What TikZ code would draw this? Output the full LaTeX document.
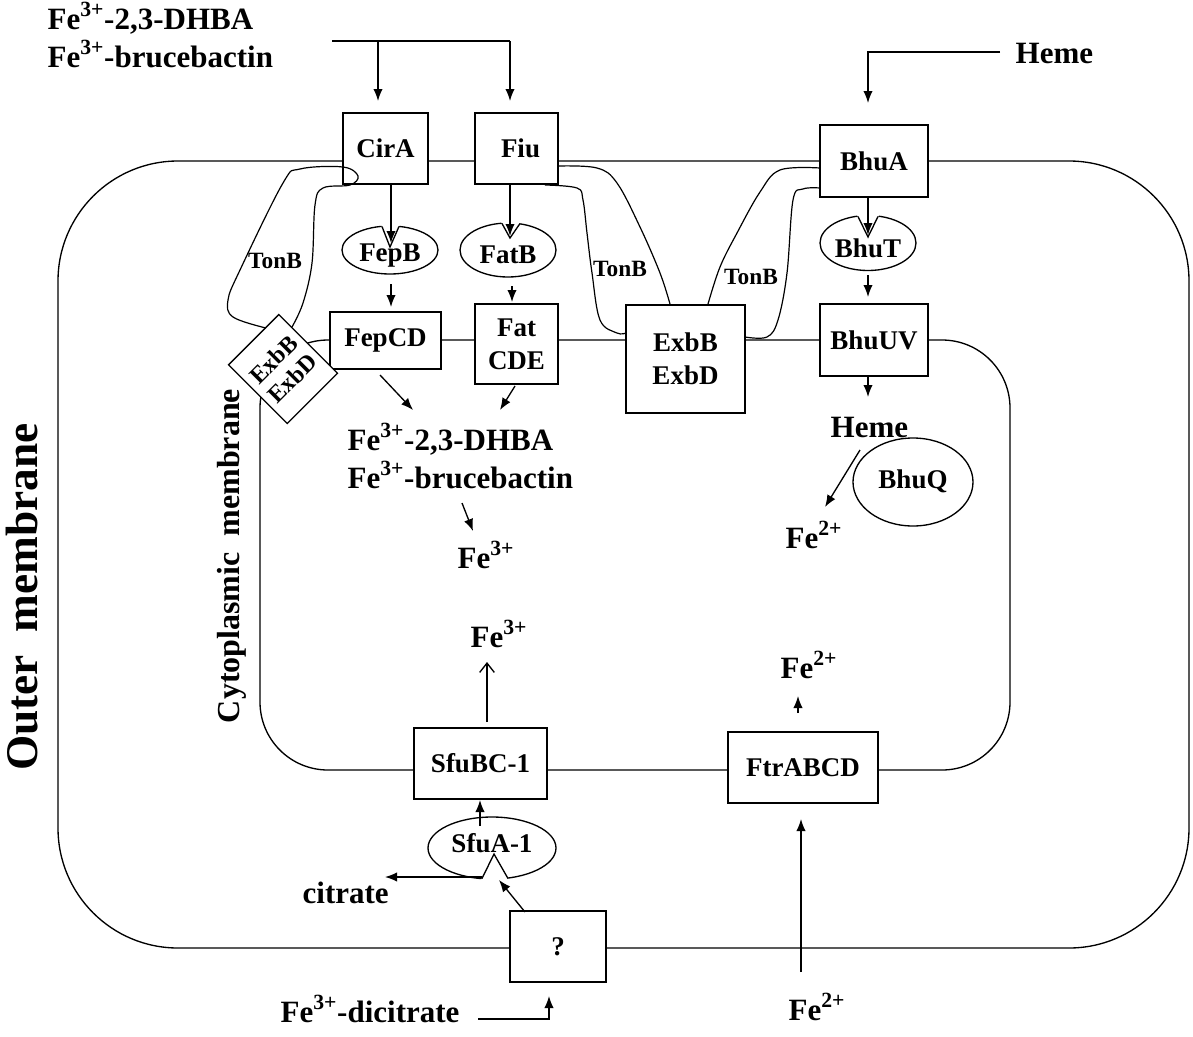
\documentclass[tikz,border=0pt]{standalone}
\usepackage{fontspec}
\setmainfont{Liberation Serif}
\usetikzlibrary{arrows.meta,shapes.geometric}
\newcommand\pxu{0.75pt}
\begin{document}
\begin{tikzpicture}[x=0.75pt,y=-0.75pt,line width=1pt,
  box/.style={draw,fill=white,inner sep=0pt,align=center,font=\fontsize{20.25}{25}\selectfont\bfseries},
  oval/.style={draw,fill=white,ellipse,inner sep=0pt},
  lbl/.style={inner sep=0pt,font=\fontsize{20.25}{25}\selectfont\bfseries},
  big/.style={inner sep=0pt,anchor=base west,font=\fontsize{23.25}{28}\selectfont\bfseries},
  tonb/.style={inner sep=0pt,font=\fontsize{17.5}{19}\selectfont\bfseries},
  arr/.style={-{Latex[length=9pt,width=7pt]}},
  openarr/.style={-{Straight Barb[length=7pt,width=11pt]}},
  tonbline/.style={line width=0.9pt},
]
\useasboundingbox (0,0) rectangle (1193,1036);

% membranes
\draw[rounded corners=90pt] (58,161) rectangle (1189,948);
\draw[rounded corners=51pt] (260,340) rectangle (1010,770);

% boxes
\node[box,minimum width=85*\pxu,minimum height=71*\pxu] (cirA) at (385.5,148.5) {CirA};
\node[box,minimum width=83*\pxu,minimum height=71*\pxu] (fiu) at (516.5,148.5) {\hspace*{6pt}Fiu};
\node[box,minimum width=108*\pxu,minimum height=72*\pxu] (bhuA) at (874,161) {BhuA};
\node[box,minimum width=111*\pxu,minimum height=57*\pxu] (fepCD) at (385.5,340.5) {FepCD};
\node[box,minimum width=83*\pxu,minimum height=80*\pxu] (fatCDE) at (516.5,344) {Fat\\CDE};
\node[box,minimum width=119*\pxu,minimum height=108*\pxu] (exbR) at (685.5,359) {ExbB\\ExbD};
\node[box,minimum width=108*\pxu,minimum height=72*\pxu] (bhuUV) at (874,340) {BhuUV};
\node[box,minimum width=133*\pxu,minimum height=71*\pxu] (sfuBC) at (480.5,763.5) {SfuBC-1};
\node[box,minimum width=150*\pxu,minimum height=71*\pxu] (ftr) at (803,767.5) {FtrABCD};
\node[box,minimum width=96*\pxu,minimum height=71*\pxu] (qbox) at (558,946.5) {?};
\node[box,rotate=45,minimum width=71*\pxu,minimum height=83*\pxu,font=\fontsize{18}{20}\selectfont\bfseries] (exbL) at (283,369) {ExbB\\ExbD};

% ovals
\node[oval,minimum width=96*\pxu,minimum height=48*\pxu] (fepB) at (390,250) {};
\node[oval,minimum width=96*\pxu,minimum height=54*\pxu] (fatB) at (508,250) {};
\node[oval,minimum width=96*\pxu,minimum height=55*\pxu] (bhuT) at (868,243) {};
\node[oval,minimum width=120*\pxu,minimum height=88*\pxu] (bhuQ) at (913,482) {};
\node[oval,minimum width=128*\pxu,minimum height=62*\pxu] (sfuA) at (492,848) {};

% notches
\fill[white] (380,222) -- (390,247) -- (401,222) -- cycle;
\draw (382,226.5) -- (390,247) -- (399,226.5);
\fill[white] (500,220) -- (510,238) -- (522,220) -- cycle;
\draw (502,223.5) -- (510,238) -- (520,223.5);
\fill[white] (856,213) -- (868,237) -- (880,213) -- cycle;
\draw (858,216.5) -- (868,237) -- (878,216.5);
\fill[white] (480,882) -- (494,854) -- (510,882) -- cycle;
\draw (482,878.5) -- (494,854) -- (508,878.5);

% oval texts
\node[lbl] at (390,256) {FepB};
\node[lbl] at (508,255) {FatB};
\node[lbl] at (868,248) {BhuT};
\node[lbl] at (913,481) {BhuQ};
\node[lbl] at (492,843) {SfuA-1};

% TonB
\draw[tonbline] plot[smooth,tension=0.6] coordinates {(266,328) (233,317) (228,300) (240,270) (283,183) (300,169) (343,167) (358,176) (350,185) (323,188) (315,205) (312,263) (303,303) (292,327)};
\draw[tonbline] plot[smooth,tension=0.6] coordinates {(558,166) (597,168) (617,183) (640,227) (660,273) (670,304)};
\draw[tonbline] plot[smooth,tension=0.6] coordinates {(545,185) (577,188) (583,200) (587,233) (592,273) (600,320) (617,333) (626,333)};
\draw[tonbline] plot[smooth,tension=0.6] coordinates {(708,304) (720,267) (737,233) (760,192) (780,170) (820,168)};
\draw[tonbline] plot[smooth,tension=0.6] coordinates {(745,337) (767,337) (778,320) (787,273) (793,200) (803,189) (820,188)};
\node[tonb] at (275,261) {TonB};
\node[tonb] at (620,269) {TonB};
\node[tonb] at (751,277) {TonB};

% outside labels and arrows
\node[big] (srcA) at (47,29) {Fe\textsuperscript{3+}-2,3-DHBA};
\node[big] (srcB) at (47,67) {Fe\textsuperscript{3+}-brucebactin};
\coordinate (topL) at (332,41);
\coordinate (topR) at (510,41);
\draw (topL) -- (topR);
\draw[arr] (378,41) -- (378,101);
\draw[arr] (topR) -- (510,101);
\node[big] (hemeTop) at (1015,63) {Heme};
\draw[arr] (1000,52) -- (868,52) -- (868,103);

% inner arrows
\draw[arr] (391,184) -- (391,243);
\draw[arr] (510,184) -- (510,236);
\draw[arr] (868,197) -- (868,235);
\draw[arr] (391,284) -- (391,307);
\draw[arr] (512,286) -- (512,302);
\draw[arr] (868,275) -- (868,297);
\draw[arr] (868,377) -- (868,397);

\node[big] (dhba) at (347,450) {Fe\textsuperscript{3+}-2,3-DHBA};
\node[big] (bruce) at (347,488) {Fe\textsuperscript{3+}-brucebactin};
\draw[arr] (380,375) -- (413,410);
\draw[arr] (515,386) -- (500,410);
\draw[arr] (462,503) -- (473,531);
\node[big] (fe3a) at (457,568) {Fe\textsuperscript{3+}};
\node[big] (fe3b) at (470,647) {Fe\textsuperscript{3+}};
\draw[openarr] (487,722) -- (487,662);

\node[big] (hemeIn) at (830,437) {Heme};
\draw[arr] (860,450) -- (825,507);
\node[big] (fe2a) at (785,548) {Fe\textsuperscript{2+}};
\node[big] (fe2b) at (780,678) {Fe\textsuperscript{2+}};
\draw[arr] (798,713) -- (798,696);
\node[big] (fe2c) at (788,1020) {Fe\textsuperscript{2+}};
\draw[arr] (801,972) -- (801,819);

\draw[arr] (480,826) -- (480,800);
\draw[arr] (482,877) -- (385,877);
\node[big] (citr) at (302,903) {citrate};
\draw[arr] (525,912) -- (499,880);
\node[big] (dicit) at (280,1022) {Fe\textsuperscript{3+}-dicitrate};
\draw[arr] (478,1019) -- (549,1019) -- (549,996);

% membrane labels
\node[rotate=90,inner sep=0pt,font=\fontsize{34}{36}\selectfont\bfseries] at (22,597) {Outer\hspace{0.5em}membrane};
\node[rotate=90,inner sep=0pt,font=\fontsize{24}{28}\selectfont\bfseries] at (232,556) {Cytoplasmic\ \ membrane};
\end{tikzpicture}
\end{document}
